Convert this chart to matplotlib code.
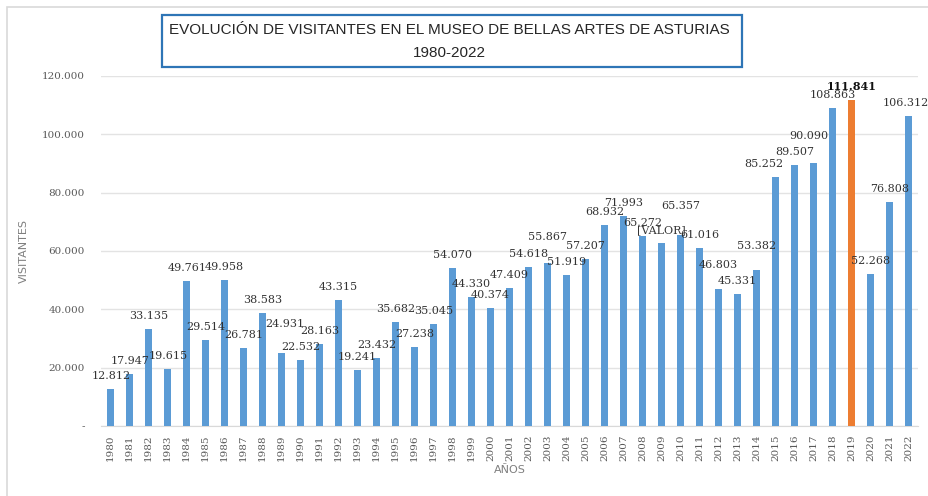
import matplotlib.pyplot as plt
from matplotlib.patches import Rectangle

# Data (Museo de Bellas Artes de Asturias visitors)
years = list(range(1980, 2023))
visitors = [12812, 17947, 33135, 19615, 49761, 29514, 49958, 26781, 38583, 24931,
            22532, 28163, 43315, 19241, 23432, 35682, 27238, 35045, 54070, 44330,
            40374, 47409, 54618, 55867, 51919, 57207, 68932, 71993, 65272, 62800,
            65357, 61016, 46803, 45331, 53382, 85252, 89507, 90090, 108863, 111841,
            52268, 76808, 106312]
highlight_year = 2019
placeholder_year = 2009   # label shown as "[VALOR]" in the original

# hand-moved labels in the original (pixel offsets)
label_shift = {1989: (3, 16), 2003: (0, 13), 2010: (0, 16), 2012: (0, 11),
               2014: (0, 11), 2015: (-12, 0), 2017: (-5, 14), 2022: (-3, 0)}

blue = '#5B9BD5'
orange = '#ED7D31'
grey = '#595959'

fig = plt.figure(figsize=(9.29, 4.96), dpi=100)
ax = fig.add_axes([0.109, 0.141, 0.879, 0.706])

x = list(range(len(years)))
colors = [orange if y == highlight_year else blue for y in years]
ax.bar(x, visitors, width=0.38, color=colors, zorder=3)

# data labels
for i, (yr, v) in enumerate(zip(years, visitors)):
    txt = '[VALOR]' if yr == placeholder_year else f"{v:,}".replace(',', '.')
    dx, dy = label_shift.get(yr, (0, 0))
    bold = yr == highlight_year
    ax.annotate(txt, (i, v), xytext=(dx, 13 + dy), textcoords='offset pixels',
                ha='center', va='center', fontsize=8, family='DejaVu Serif',
                color='#111111' if bold else '#333333',
                fontweight='bold' if bold else 'normal', zorder=4)

ax.set_xlim(-0.5, 42.5)
ax.set_ylim(0, 120000)
yticks = list(range(0, 120001, 20000))
ax.set_yticks(yticks)
ax.set_yticklabels(['-' if t == 0 else f"{t:,}".replace(',', '.') for t in yticks],
                   family='DejaVu Serif', fontsize=7.5, color=grey)
ax.set_xticks(x)
ax.set_xticklabels([str(y) for y in years], rotation=90, family='DejaVu Serif',
                   fontsize=7.5, color=grey)
ax.tick_params(length=0)
ax.tick_params(axis='x', pad=6)
ax.tick_params(axis='y', pad=12)

ax.grid(axis='y', color='#E3E3E3', linewidth=1, zorder=0)
for s in ['top', 'right', 'left']:
    ax.spines[s].set_visible(False)
ax.spines['bottom'].set_color('#D9D9D9')

ax.set_ylabel('VISITANTES', fontsize=8, color='#7F7F7F')
ax.yaxis.set_label_coords(-0.088, 0.5)
ax.set_xlabel('AÑOS', fontsize=8, color='#7F7F7F', labelpad=3)

# outer chart frame
fig.patches.append(Rectangle((7 / 929, -0.05), 1.05, 1 - 7 / 496 + 0.05,
                             transform=fig.transFigure, fill=False,
                             edgecolor='#D9D9D9', linewidth=1.2))

# title box
fig.patches.append(Rectangle((162 / 929, 1 - 67 / 496), 580 / 929, 52 / 496,
                             transform=fig.transFigure, facecolor='white',
                             edgecolor='#2E75B6', linewidth=1.6))
fig.text(449 / 929, 1 - 30 / 496, 'EVOLUCIÓN DE VISITANTES EN EL MUSEO DE BELLAS ARTES DE ASTURIAS',
         ha='center', va='center', fontsize=11, color='#262626', family='Liberation Sans')
fig.text(449 / 929, 1 - 53 / 496, '1980-2022',
         ha='center', va='center', fontsize=11, color='#262626', family='Liberation Sans')

plt.savefig('out.png', dpi=100)
